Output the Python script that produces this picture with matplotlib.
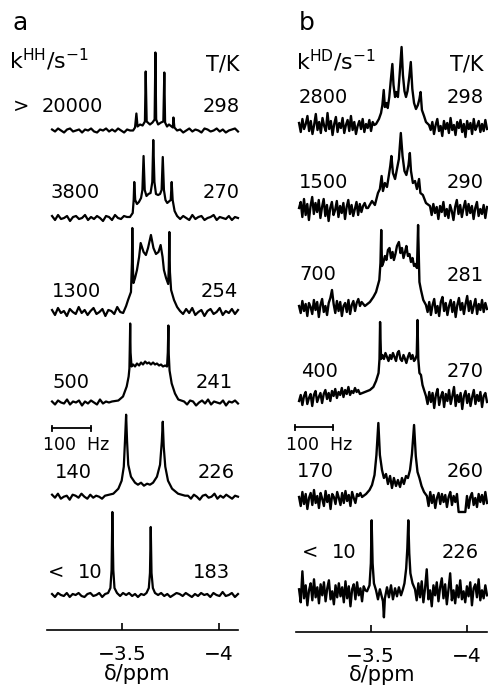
import numpy as np
import matplotlib
matplotlib.use("Agg")
import matplotlib.pyplot as plt

plt.rcParams['font.family'] = ['DejaVu Sans']
plt.rcParams['mathtext.fontset'] = 'dejavusans'

# ---------------- data ----------------
temps_a = ["298", "270", "254", "241", "226", "183"]
rates_a = ["20000", "3800", "1300", "500", "140", "10"]
prefix_a = [">", "", "", "", "", "<"]
temps_b = ["298", "290", "281", "270", "260", "226"]
rates_b = ["2800", "1500", "700", "400", "170", "10"]
prefix_b = ["", "", "", "", "", "<"]
xticks = [-3.5, -4.0]
xtick_labels = ["\u22123.5", "\u22124"]
bar_hz = 100
spectrometer_mhz = 500

# panel a spectra (ppm vertices, intensity) + baseline noise left / right
a298_ppm = [-3.557, -3.567, -3.574, -3.580, -3.593, -3.606, -3.618, -3.622, -3.627, -3.644, -3.657, -3.668, -3.672,
            -3.676, -3.686, -3.701, -3.713, -3.718, -3.722, -3.732, -3.742, -3.762, -3.765, -3.770, -3.784]
a298_int = [0, 3, 17, 4, 6, 5, 9, 59, 9, 6, 8, 11, 78, 11, 6, 8, 9, 58, 8, 4, 6, 3, 13, 3, 0]
a298_left = [1, -1, 2, 0, -2, 1, 2, -1, 0, 1, -2, 1, 0, 2, -1, -2, 1, 0, 2, -1, 1, -1, 2, 0, -2, 1, 0]
a298_right = [1, -2, 0, 2, -1, 1, 0, -2, 2, 1, -1, 0, 2, -1, 1, -2, 0, 1, 2, -1]

a270_ppm = [-3.541, -3.555, -3.560, -3.563, -3.568, -3.577, -3.587, -3.598, -3.605, -3.611, -3.617, -3.626, -3.636,
            -3.647, -3.656, -3.661, -3.667, -3.675, -3.686, -3.696, -3.704, -3.710, -3.716, -3.724, -3.733, -3.745,
            -3.751, -3.756, -3.761, -3.771, -3.784]
a270_int = [1, 5, 18, 36, 18, 14, 16, 20, 28, 62, 28, 22, 24, 25, 36, 78, 36, 24, 23, 24, 28, 61, 28, 18, 15, 17,
            18, 36, 18, 7, 2]
a270_left = [2, -2, 3, -1, 0, 2, -3, 1, 2, -1, 0, 3, -2, 1, -1, 2, 0, -3, 2, 1, -2, 3, 0, -1, 2, 1]
a270_right = [-1, 2, 0, -2, 3, -1, 1, 2, -2, 0, 1, 3, -2, 1, 0, -1, 2, -2, 1, 0]

a254_ppm = [-3.521, -3.531, -3.546, -3.551, -3.553, -3.556, -3.559, -3.567, -3.577, -3.588, -3.596, -3.611, -3.623,
            -3.634, -3.649, -3.662, -3.675, -3.688, -3.699, -3.709, -3.716, -3.727, -3.738, -3.741, -3.744, -3.747,
            -3.753, -3.768, -3.784, -3.799]
a254_int = [6, 12, 20, 50, 84, 45, 29, 34, 42, 55, 69, 60, 57, 64, 77, 64, 58, 60, 67, 55, 42, 34, 28, 45, 80, 40,
            22, 12, 5, 1]
a254_left = [2, -3, 4, -1, 1, -4, 3, 0, -2, 5, -1, 2, -3, 1, 4, -2, 0, 3, -4, 2, 1, -2, 5, 0, -1]
a254_right = [-2, 3, -1, 4, -3, 0, 2, -4, 1, 3, -2, 0, 4, -3, 1, -1, 3, -2, 2]

a241_ppm = [-3.448, -3.481, -3.505, -3.524, -3.534, -3.538, -3.540, -3.542, -3.544, -3.549, -3.557, -3.567, -3.577,
            -3.588, -3.598, -3.608, -3.619, -3.629, -3.639, -3.649, -3.660, -3.670, -3.680, -3.691, -3.701, -3.711,
            -3.722, -3.732, -3.736, -3.739, -3.741, -3.745, -3.756, -3.773, -3.790, -3.820]
a241_int = [1, 2, 6, 16, 26, 34, 55, 79, 50, 36, 38, 36, 39, 37, 40, 38, 41, 39, 40, 38, 40, 38, 39, 37, 38, 36,
            37, 36, 50, 77, 48, 32, 19, 9, 3, 1]
a241_left = [1, -2, 2, 0, -1, 3, -2, 1, 0, 2, -3, 1, -1, 2, 0, -2, 3, -1, 1, 0]
a241_right = [-2, 2, 1, -3, 0, 2, -1, 3, -2, 1, 0, -1, 2, -3, 1, 0, 2, -1]

a226_ppm = [-3.412, -3.455, -3.481, -3.498, -3.509, -3.515, -3.521, -3.526, -3.532, -3.546, -3.567, -3.582, -3.598,
            -3.613, -3.629, -3.644, -3.660, -3.680, -3.696, -3.705, -3.710, -3.715, -3.723, -3.737, -3.758, -3.789,
            -3.825]
a226_int = [1, 3, 8, 16, 30, 55, 82, 55, 32, 20, 14, 12, 14, 11, 13, 12, 14, 20, 32, 55, 75, 50, 30, 16, 8, 3, 1]
a226_left = [2, -1, 3, -2, 0, 1, -3, 2, 1, -1, 3, 0, -2, 2, -1, 1, 0, -2]
a226_right = [1, -2, 2, 0, -3, 1, 2, -1, 0, 3, -2, 1, -1, 2, 0, -2, 1, 0]

a183_ppm = [-3.428, -3.440, -3.446, -3.450, -3.455, -3.461, -3.474, -3.490, -3.505, -3.521, -3.536, -3.552, -3.567,
            -3.582, -3.598, -3.613, -3.626, -3.638, -3.644, -3.648, -3.652, -3.659, -3.670]
a183_int = [2, 7, 25, 83, 25, 7, 2, -1, 2, 0, 2, -1, 1, -2, 1, 0, 2, 7, 22, 68, 22, 7, 2]
a183_left = [1, -2, 2, 0, -1, 2, -2, 1, 0, 2, -1, -2, 1, 2, -1, 0, 2, -2, 1]
a183_right = [0, 2, -1, 1, -2, 0, 2, 1, -1, 2, 0, -2, 1, -1, 2, 0, 1, -2, 2, 0, -1, 3, -1, 0, 2, -2, 1]

# panel b spectra
b298_ppm = [-3.528, -3.543, -3.554, -3.561, -3.568, -3.574, -3.582, -3.589, -3.597, -3.604, -3.613, -3.619, -3.627,
            -3.634, -3.642, -3.650, -3.661, -3.668, -3.676, -3.684, -3.692, -3.701, -3.709, -3.717, -3.726, -3.736,
            -3.746, -3.754, -3.760, -3.767, -3.778, -3.788, -3.804]
b298_int = [3, 8, 14, 22, 37, 20, 24, 19, 30, 45, 63, 42, 30, 35, 30, 50, 80, 52, 36, 30, 36, 50, 65, 38, 24, 18,
            22, 28, 35, 17, 11, 5, 2]
b298_left = [4, -5, 8, -2, 3, 11, -4, 6, -7, 2, 13, -3, 5, -6, 9, 1, -4, 14, -2, 6, -8, 3, 10, -5, 4, -1, 9, -6, 2,
             7, -4, 11, -3, 5, -7, 1, 6, -2, 8, -5, 3, -1, 7, -4, 5, 2]
b298_right = [-3, 5, -7, 2, 8, -4, 1, -9, 6, -2, 4, -6, 9, -3, 2, -8, 5, -1, 7, -5, 3, -10, 6, -2, 4, -7, 8, -3, 1,
              6, -5, 3, -4, 7, -2]

b290_ppm = [-3.486, -3.507, -3.522, -3.538, -3.548, -3.557, -3.564, -3.574, -3.585, -3.595, -3.602, -3.608, -3.616,
            -3.627, -3.637, -3.647, -3.657, -3.666, -3.676, -3.686, -3.697, -3.704, -3.710, -3.720, -3.731, -3.741,
            -3.752, -3.759, -3.772, -3.788, -3.809]
b290_int = [3, 10, 6, 18, 22, 35, 20, 28, 24, 36, 45, 55, 38, 32, 42, 52, 78, 55, 40, 36, 46, 58, 40, 28, 30, 22,
            32, 18, 16, 8, 5]
b290_left = [3, 9, -6, 12, -4, 7, -9, 5, 14, -3, 8, -1, 11, -7, 4, 12, -5, 6, -10, 3, 9, -4, 1, 10, -6, 5, -2, 8,
             -8, 4, 11, -3, 6, -5, 2, 9, -4, 7, -1, 5, 8, 3]
b290_right = [-4, 7, -2, 4, -8, 5, -1, 9, -5, 2, -7, 6, 0, -9, 4, 11, -3, 6, -6, 3, 10, -4, 7, -2, 5, -8, 3, 9, -5,
              2, -3, 6, -7, 4]

b281_ppm = [-3.470, -3.496, -3.514, -3.528, -3.545, -3.551, -3.555, -3.559, -3.567, -3.574, -3.582, -3.590, -3.598,
            -3.606, -3.614, -3.621, -3.629, -3.637, -3.647, -3.655, -3.663, -3.671, -3.679, -3.686, -3.694, -3.702,
            -3.710, -3.718, -3.726, -3.733, -3.741, -3.744, -3.747, -3.751, -3.754, -3.762, -3.774, -3.788]
b281_int = [2, 6, 11, 16, 28, 45, 78, 42, 46, 52, 48, 58, 60, 50, 56, 48, 54, 62, 66, 55, 60, 50, 56, 62, 52, 54,
            46, 50, 42, 44, 40, 60, 83, 50, 26, 18, 8, 3]
b281_left = [2, -5, 7, -3, 4, -8, 5, 1, -6, 8, -2, 6, -9, 3, 9, -4, 2, -7, 5, 10, 18, 4, -5, 7, -3, 6, -8, 2, 5, -4,
             8, -6, 3, 7, -3, 5, 9, 2, 6, 4]
b281_right = [-4, 6, -7, 3, 9, -5, 2, -8, 6, 11, -3, 5, -7, 2, 8, -4, 6, -9, 3, 10, -2, 5, -6, 4, 12, -3, 7, -5, 2,
              9, -6, 4, -2, 8, -4, 5, -1]

b270_ppm = [-3.444, -3.470, -3.496, -3.514, -3.528, -3.541, -3.546, -3.549, -3.554, -3.561, -3.569, -3.577, -3.585,
            -3.593, -3.601, -3.608, -3.616, -3.624, -3.632, -3.640, -3.647, -3.655, -3.663, -3.671, -3.679, -3.686,
            -3.694, -3.702, -3.710, -3.718, -3.726, -3.733, -3.740, -3.744, -3.748, -3.754, -3.762, -3.770, -3.778,
            -3.788]
b270_int = [5, 7, 9, 12, 18, 26, 40, 77, 40, 44, 40, 46, 42, 38, 44, 40, 46, 42, 38, 46, 48, 40, 38, 44, 40, 36,
            42, 46, 40, 44, 38, 40, 44, 79, 40, 26, 24, 14, 9, 3]
b270_left = [-2, 4, -6, 3, 7, -5, 1, 5, -7, 4, 8, -3, 2, 6, -4, 5, 9, 0, 6, -2, 8, 3, 10, 1, 7, 4, 11, 2, 9, 5, 12,
             4, 8, 6, 11, 7, 9]
b270_right = [-5, 7, -3, 6, -9, 4, 10, -6, 2, 7, -8, 5, -2, 9, -5, 3, 12, -7, 4, -3, 6, -10, 3, 8, -4, 5, -7, 2, 9,
              -5, 4, -2, 7, -8, 3, 6, -3]

b260_ppm = [-3.455, -3.476, -3.494, -3.507, -3.520, -3.530, -3.540, -3.548, -3.559, -3.569, -3.580, -3.590, -3.601,
            -3.611, -3.621, -3.632, -3.642, -3.653, -3.663, -3.673, -3.684, -3.694, -3.705, -3.715, -3.726, -3.735,
            -3.744, -3.754, -3.765, -3.778, -3.793]
b260_int = [3, 6, 10, 15, 25, 45, 77, 45, 30, 22, 26, 16, 24, 12, 22, 14, 20, 13, 22, 16, 24, 22, 30, 46, 75, 44,
            28, 22, 14, 8, 4]
b260_left = [3, -6, 8, -4, 6, -9, 2, 7, -5, 10, -3, 4, -8, 7, 1, -6, 9, -2, 5, -9, 6, 3, -4, 8, 2, -5, 7, -3, 9, -1,
             5, -6, 8, 2, -3, 6, 4, 7]
b260_right = [-6, 8, -3, 5, -8, 2, 7, -4, 6, -2, 5, -7, 3, 8, -5, 4, -2, 6, -12, -12, -12, -12, -12, 4, -8, 3, 7,
              -5, 2, -7, 6, -2, 5, -4, 8, -3]

b226_ppm = [-3.481, -3.494, -3.501, -3.505, -3.510, -3.517, -3.528, -3.538, -3.548, -3.564, -3.569, -3.574, -3.585,
            -3.595, -3.606, -3.616, -3.627, -3.637, -3.647, -3.658, -3.668, -3.676, -3.685, -3.691, -3.696, -3.701,
            -3.707, -3.718, -3.731]
b226_int = [2, 8, 30, 73, 30, 10, 3, -6, 4, -8, -24, -5, 6, -4, 8, -6, 5, -3, 6, -2, 4, 10, 25, 45, 73, 40, 20,
            10, 4]
b226_left = [4, -9, 22, -5, 8, -12, 3, 10, -7, 14, -4, 6, -10, 9, -2, 11, -8, 5, 13, -6, 2, -11, 8, -4, 10, -3, 6,
             -9, 12, -5, 7, -13, 4, 9, -6, 11, -2, 5, -8, 7, 3]
b226_right = [-7, 10, -4, 12, -9, 5, 24, -6, 3, -13, 8, -2, 11, -8, 6, 15, -5, 9, -11, 4, 20, -7, 3, -10, 8, -4,
              13, -6, 2, -9, 7, -3, 11, -12, 5, 9, -4, 14, -7, 3, -5, 8, -2]

spectra_a = [(a298_ppm, a298_int, a298_left, a298_right), (a270_ppm, a270_int, a270_left, a270_right),
             (a254_ppm, a254_int, a254_left, a254_right), (a241_ppm, a241_int, a241_left, a241_right),
             (a226_ppm, a226_int, a226_left, a226_right), (a183_ppm, a183_int, a183_left, a183_right)]
spectra_b = [(b298_ppm, b298_int, b298_left, b298_right), (b290_ppm, b290_int, b290_left, b290_right),
             (b281_ppm, b281_int, b281_left, b281_right), (b270_ppm, b270_int, b270_left, b270_right),
             (b260_ppm, b260_int, b260_left, b260_right), (b226_ppm, b226_int, b226_left, b226_right)]

# ---------------- layout (pixels) ----------------
W, H = 488, 692
panels = [
    dict(name="a", spectra=spectra_a, temps=temps_a, rates=rates_a, prefix=prefix_a, lw=1.6,
         ax_left=47, ax_bottom=630, ax_width=191, xlim=(-3.113, -4.098), trace=(-3.139, -4.098),
         base=[130.5, 218, 312, 402.5, 496.7, 595],
         rate_x=[42, 50, 52, 52, 55, 78], rate_y=[112, 198, 297, 388, 478, 578],
         pre_x=[13, 0, 0, 0, 0, 48],
         temp_x=[240, 240, 238, 233, 235, 230], temp_y=[112, 198, 297, 388, 478, 578],
         label_xy=(13, 30), head=r"k$^{\mathrm{HH}}$/s$^{-1}$", head_xy=(9, 69), tk_xy=(240, 71),
         bar_ppm=-3.139, bar_y=428, hz_xy=(43, 450), unit_xy=(137, 674)),
    dict(name="b", spectra=spectra_b, temps=temps_b, rates=rates_b, prefix=prefix_b, lw=1.7,
         ax_left=296, ax_bottom=632, ax_width=191, xlim=(-3.111, -4.106), trace=(-3.127, -4.106),
         base=[127, 211, 308, 399, 500, 593.3],
         rate_x=[299, 299, 299, 301, 297, 332], rate_y=[103, 188, 280, 377, 477, 558],
         pre_x=[0, 0, 0, 0, 0, 302],
         temp_x=[484, 484, 484, 484, 484, 479], temp_y=[103, 188, 281, 377, 477, 558],
         label_xy=(299, 30), head=r"k$^{\mathrm{HD}}$/s$^{-1}$", head_xy=(296, 70), tk_xy=(484, 71),
         bar_ppm=-3.106, bar_y=427, hz_xy=(286, 450), unit_xy=(382, 675)),
]

fig = plt.figure(figsize=(W / 100, H / 100), dpi=100)


def fxy(px, py):
    return px / W, 1 - py / H


def build(ppm, inten, left, right, start, end):
    xl = np.linspace(start, ppm[0], len(left) + 1)[:-1]
    xr = np.linspace(ppm[-1], end, len(right) + 1)[1:]
    return (np.concatenate([xl, ppm, xr]),
            np.concatenate([np.asarray(left, float), np.asarray(inten, float), np.asarray(right, float)]))


LBL = 14
for p in panels:
    bot = p["ax_bottom"]
    ax = fig.add_axes([p["ax_left"] / W, (H - bot) / H, p["ax_width"] / W, bot / H])
    ax.set_xlim(*p["xlim"])
    ax.set_ylim(0, bot)
    for s in ["top", "left", "right"]:
        ax.spines[s].set_visible(False)
    ax.spines["bottom"].set_linewidth(1.2)
    ax.set_yticks([])
    ax.set_xticks(xticks)
    ax.set_xticklabels(xtick_labels)
    ax.tick_params(axis="x", direction="in", length=5, width=1.2, labelsize=14.5, pad=11)
    ax.patch.set_visible(False)

    for (ppm, inten, left, right), b in zip(p["spectra"], p["base"]):
        x, y = build(ppm, inten, left, right, *p["trace"])
        ax.plot(x, (bot - b) + y, color="black", lw=p["lw"], clip_on=False, solid_joinstyle="round")

    # scale bar
    width_ppm = bar_hz / spectrometer_mhz
    yb = bot - p["bar_y"]
    ax.plot([p["bar_ppm"], p["bar_ppm"] - width_ppm], [yb, yb], color="black", lw=1.3, clip_on=False)
    for xe in (p["bar_ppm"], p["bar_ppm"] - width_ppm):
        ax.plot([xe, xe], [yb - 2.5, yb + 2.5], color="black", lw=1.3, clip_on=False)
    fig.text(*fxy(*p["hz_xy"]), f"{bar_hz}  Hz", fontsize=12.5, ha="left", va="baseline")

    # labels
    for i in range(len(p["temps"])):
        fig.text(*fxy(p["rate_x"][i], p["rate_y"][i]), p["rates"][i], fontsize=LBL, ha="left", va="baseline")
        if p["prefix"][i]:
            fig.text(*fxy(p["pre_x"][i], p["rate_y"][i]), p["prefix"][i], fontsize=LBL, ha="left", va="baseline")
        fig.text(*fxy(p["temp_x"][i], p["temp_y"][i]), p["temps"][i], fontsize=LBL, ha="right", va="baseline")

    fig.text(*fxy(*p["label_xy"]), p["name"], fontsize=18, ha="left", va="baseline")
    fig.text(*fxy(*p["head_xy"]), p["head"], fontsize=16, ha="left", va="baseline")
    fig.text(*fxy(*p["tk_xy"]), "T/K", fontsize=15, ha="right", va="baseline")
    fig.text(*fxy(*p["unit_xy"]), "\u03b4/ppm", fontsize=15, ha="center", va="center")

fig.savefig("out.png", dpi=100)
